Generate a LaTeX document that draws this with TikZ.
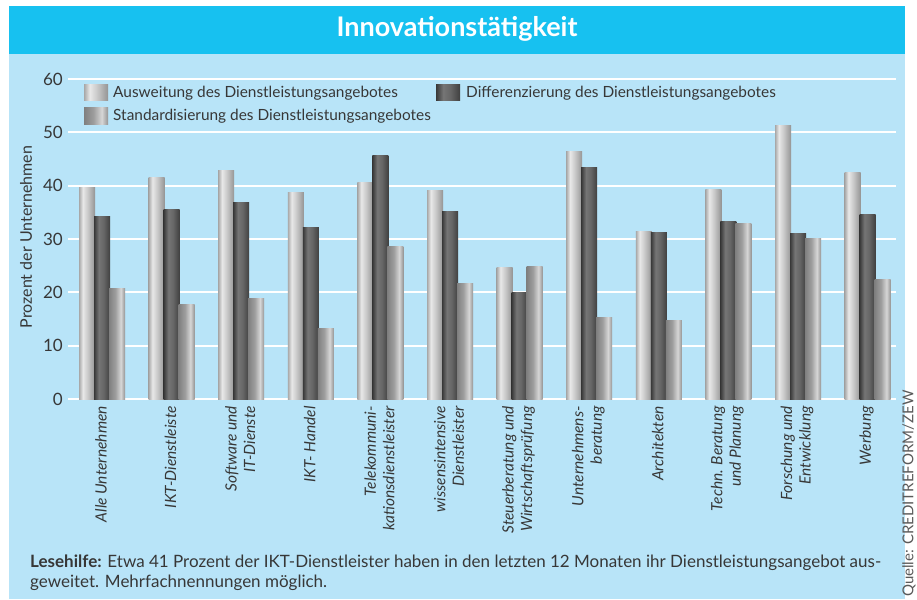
\documentclass[tikz,border=0pt]{standalone}
\usepackage{fontspec}
\setmainfont{Lato}
\definecolor{titlecyan}{RGB}{23,193,240}
\definecolor{panelblue}{RGB}{184,228,248}
\definecolor{txt}{RGB}{55,55,55}
\definecolor{srcgrey}{RGB}{90,90,90}
\pgfdeclarehorizontalshading{lightbar}{100bp}{rgb(0bp)=(.66,.66,.66); rgb(25bp)=(.66,.66,.66); rgb(37bp)=(.91,.91,.91); rgb(52bp)=(.79,.79,.79); rgb(75bp)=(.58,.58,.58); rgb(100bp)=(.58,.58,.58)}
\pgfdeclarehorizontalshading{darkbar}{100bp}{rgb(0bp)=(.22,.22,.22); rgb(25bp)=(.22,.22,.22); rgb(40bp)=(.46,.46,.46); rgb(55bp)=(.40,.40,.40); rgb(75bp)=(.25,.25,.25); rgb(100bp)=(.25,.25,.25)}
\pgfdeclarehorizontalshading{stdbar}{100bp}{rgb(0bp)=(.50,.50,.50); rgb(25bp)=(.50,.50,.50); rgb(45bp)=(.62,.62,.62); rgb(62bp)=(.84,.84,.84); rgb(75bp)=(.58,.58,.58); rgb(100bp)=(.58,.58,.58)}
\tikzset{
  ticklab/.style={anchor=east, text=txt, font=\fontsize{17}{20}\selectfont, inner sep=0pt},
  leglab/.style={anchor=west, text=txt, font=\fontsize{15.4}{18}\selectfont, inner sep=0pt},
  catlab/.style={anchor=east, rotate=90, align=right, text=txt, font=\fontsize{15.5}{18.5}\selectfont\itshape, inner sep=0pt},
  gridline/.style={white, line width=2pt},
  swatch/.style={draw=none}
}
\begin{document}
\begin{tikzpicture}[x=1pt,y=-1pt]
\useasboundingbox (0,0) rectangle (917,599);
\fill[white] (0,0) rectangle (917,599);
\fill[panelblue] (9,54) rectangle (905,599);
\fill[titlecyan] (9,6) rectangle (905,54);
\node[text=white, font=\fontsize{27}{30}\selectfont\bfseries] (title) at (457,29) {Innovationstätigkeit};
% grid and ticks
\foreach \v in {0,10,...,60} {
  \draw[gridline] (68,{399-5.333*\v}) -- (896,{399-5.333*\v});
  \node[ticklab] (tick\v) at (63,{399-5.333*\v}) {\v};
}
\node[rotate=90, text=txt, font=\fontsize{16}{19}\selectfont] (ylab) at (26,237) {Prozent der Unternehmen};
% bars
\foreach \a/\b/\c [count=\i from 0] in {39.6/34.2/20.8, 41.5/35.5/17.7, 42.8/36.8/18.8, 38.7/32.1/13.3, 40.6/45.6/28.6, 39.1/35.1/21.6, 24.6/19.9/24.8, 46.4/43.4/15.2, 31.4/31.2/14.7, 39.3/33.2/32.9, 51.3/31.0/30.1, 42.5/34.6/22.5} {
  \pgfmathsetmacro\xx{79+69.6*\i}
  \shade[shading=lightbar] (\xx,399) rectangle ({\xx+16},{399-5.333*\a});
  \shade[shading=darkbar] ({\xx+15},399) rectangle ({\xx+31},{399-5.333*\b});
  \shade[shading=stdbar] ({\xx+30},399) rectangle ({\xx+46},{399-5.333*\c});
}
% category labels
\foreach \lab [count=\i from 0] in {{Alle Unternehmen},{IKT-Dienstleiste},{Software und\\IT-Dienste},{IKT- Handel},{Telekommuni-\\kationsdienstleister},{wissensintensive\\Dienstleister},{Steuerberatung und\\Wirtschaftsprüfung},{Unternehmens-\\beratung},{Architekten},{Techn. Beratung\\und Planung},{Forschung und\\Entwicklung},{Werbung}} {
  \node[catlab] (cat\i) at ({79+69.6*\i+22},406) {\lab};
}
% legend
\shade[shading=lightbar] (84,85) rectangle (108,101);
\node[leglab] (leg1) at (113,93) {Ausweitung des Dienstleistungsangebotes};
\shade[shading=darkbar] (436,85) rectangle (460,101);
\node[leglab] (leg2) at (466,93) {Differenzierung des Dienstleistungsangebotes};
\shade[shading=stdbar] (84,108) rectangle (108,124);
\node[leglab] (leg3) at (113,116) {Standardisierung des Dienstleistungsangebotes};
% reading help
\node[anchor=base west, align=left, text=txt, font=\fontsize{17}{20}\selectfont, inner sep=0pt] (help) at (30,587)
  {\textbf{Lesehilfe:} Etwa 41 Prozent der IKT-Dienstleister haben in den letzten 12 Monaten ihr Dienstleistungsangebot aus-\\geweitet. Mehrfachnennungen möglich.};
% source
\node[anchor=west, rotate=90, text=srcgrey, font=\fontsize{15}{18}\selectfont, inner sep=0pt] (src) at (909,597) {Quelle: CREDITREFORM/ZEW};
\end{tikzpicture}
\end{document}
